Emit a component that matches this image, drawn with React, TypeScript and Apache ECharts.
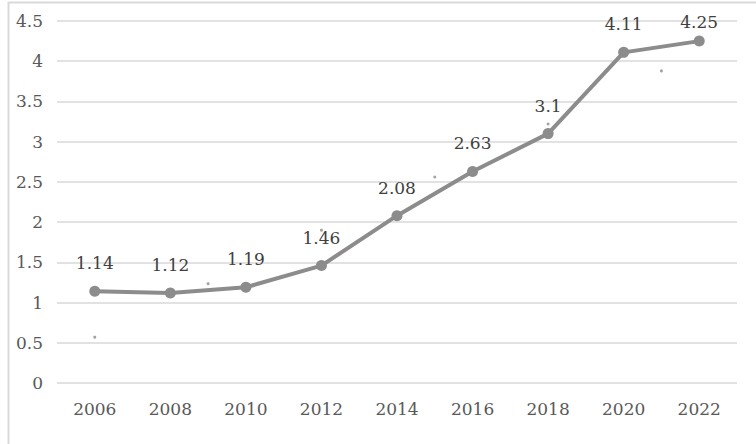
import React, { useEffect, useRef } from "react";
import * as echarts from "echarts";

const years = ["2006", "2008", "2010", "2012", "2014", "2016", "2018", "2020", "2022"];
const values = [1.14, 1.12, 1.19, 1.46, 2.08, 2.63, 3.1, 4.11, 4.25];
// stray small dots visible in the reference (category index position, value)
const dotPositions = [0, 1.5, 3, 4.5, 6, 7.5];
const dotValues = [0.57, 1.235, 1.9, 2.56, 3.22, 3.88];

export default function App() {
  const ref = useRef<HTMLDivElement>(null);
  useEffect(() => {
    if (!ref.current) return;
    const chart = echarts.init(ref.current, null, { renderer: "svg" });
    const font = "DejaVu Serif";
    const lastIndex = values.length - 1;
    chart.setOption({
      animation: false,
      backgroundColor: "#ffffff",
      textStyle: { fontFamily: font },
      graphic: [
        {
          type: "rect",
          shape: { x: 8.5, y: 2.5, width: 800, height: 500 },
          style: { fill: "none", stroke: "#d9d9d9", lineWidth: 2 },
          silent: true,
        },
      ],
      grid: { left: 57, right: 19, top: 21, bottom: 61 },
      xAxis: [
        {
          type: "category",
          data: years,
          boundaryGap: true,
          axisLine: { show: false },
          axisTick: { show: false },
          axisLabel: { color: "#595959", fontSize: 17, fontFamily: font, margin: 17 },
        },
        {
          type: "value",
          min: -0.5,
          max: 8.5,
          show: false,
        },
      ],
      yAxis: {
        type: "value",
        min: 0,
        max: 4.5,
        interval: 0.5,
        axisLine: { show: false },
        axisTick: { show: false },
        axisLabel: { color: "#595959", fontSize: 17, fontFamily: font, margin: 14 },
        splitLine: { lineStyle: { color: "#d9d9d9", width: 1.5 } },
      },
      series: [
        {
          type: "line",
          data: values.map((v, i) =>
            i === lastIndex ? { value: v, label: { distance: 5 } } : v
          ),
          xAxisIndex: 0,
          symbol: "circle",
          symbolSize: 11,
          itemStyle: { color: "#8c8c8c" },
          lineStyle: { color: "#8c8c8c", width: 4 },
          label: {
            show: true,
            position: "top",
            distance: 14,
            color: "#404040",
            fontSize: 17,
            fontFamily: font,
          },
        },
        {
          type: "scatter",
          xAxisIndex: 1,
          data: dotPositions.map((p, i) => [p, dotValues[i]]),
          symbol: "circle",
          symbolSize: 3,
          itemStyle: { color: "#8c8c8c" },
          silent: true,
        },
      ],
    });
    return () => chart.dispose();
  }, []);
  return (
    <div
      ref={ref}
      style={{ position: "absolute", left: 0, top: 0, width: 756, height: 444 }}
    />
  );
}
